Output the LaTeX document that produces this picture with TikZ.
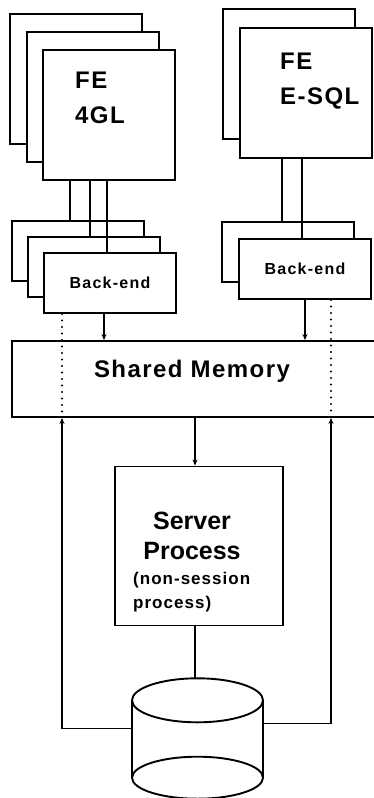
\documentclass[tikz,border=0pt]{standalone}
\usepackage{fontspec}
\setmainfont{Liberation Sans}
\usepackage{tikz}
\usetikzlibrary{arrows.meta, positioning}
\tikzstyle{sheet} = [rectangle, minimum width=132pt, minimum height=130pt, draw=black, fill=white, line width=1.9pt, inner sep=0pt]
\tikzstyle{backend} = [rectangle, minimum width=132pt, minimum height=60pt, draw=black, fill=white, line width=1.9pt, font={\bfseries\fontsize{16}{18}\selectfont\addfontfeature{LetterSpace=8}}]
\tikzstyle{memory} = [rectangle, minimum width=368pt, minimum height=76pt, draw=black, fill=white, line width=1.9pt]
\tikzstyle{server} = [rectangle, minimum width=168pt, minimum height=159pt, draw=black, fill=white, line width=1.9pt]
\tikzstyle{bigtext} = [inner sep=0pt, align=left, font={\bfseries\fontsize{24}{35}\selectfont\addfontfeature{LetterSpace=6}}]
\tikzstyle{srvtext} = [inner sep=0pt, align=center, font={\bfseries\fontsize{25}{30}\selectfont}]
\tikzstyle{notetext} = [inner sep=0pt, align=left, font={\bfseries\fontsize{17}{24}\selectfont\addfontfeature{LetterSpace=6}}]
\tikzstyle{link} = [line width=1.9pt]
\tikzstyle{arrow} = [line width=1.9pt, -{Stealth[length=6pt,width=5pt]}]
\tikzstyle{dotline} = [line width=2.2pt, dash pattern=on 0pt off 6.5pt, line cap=round]

\begin{document}
\begin{tikzpicture}[x=1pt, y=-1pt]
\useasboundingbox (0,0) rectangle (374,798);

\node (fe4glC) [sheet] at (76,79) {};
\node (fe4glB) [sheet] at (93,97) {};
\node (fe4gl) [sheet] at (109,115) {};
\node (fe4gltext) [bigtext, anchor=north west] at (75,72) {FE\\4GL};

\node (feesqlB) [sheet] at (289,74) {};
\node (feesql) [sheet] at (306,93) {};
\node (feesqltext) [bigtext, anchor=north west] at (280,53) {FE\\E-SQL};

\node (beL3) [backend] at (78,251) {};
\node (beL2) [backend] at (94,267) {};
\node (beL1) [backend] at (110,283) {Back-end};

\node (beR2) [backend] at (288,252) {};
\node (beR1) [backend] at (305,269) {Back-end};

\node (shm) [memory] at (196,379) {};
\node (shmtext) [bigtext, anchor=base] at (192,377) {Shared Memory};

\node (srv) [server] at (199,546) {};
\node (srvname) [srvtext, anchor=north] at (192,512) {Server\\Process};
\node (srvnote) [notetext, anchor=north west] at (133,572) {(non-session\\process)};

% disk
\node (db) [minimum width=131pt, minimum height=120pt, inner sep=0pt] at (197.5,738.5) {};
\draw [link] ([yshift=-22pt]db.north) ellipse [x radius=65.5pt, y radius=22pt];
\draw [link] ([yshift=21pt]db.south) ellipse [x radius=65.5pt, y radius=21pt];
\draw [link] ([yshift=-22pt]db.north west) -- ([yshift=21pt]db.south west);
\draw [link] ([yshift=-22pt]db.north east) -- ([yshift=21pt]db.south east);

\draw [link] ([xshift=-39pt]fe4gl.south) -- ([xshift=-8pt]beL3.north);
\draw [link] ([xshift=-19pt]fe4gl.south) -- ([xshift=-4pt]beL2.north);
\draw [link] ([xshift=-2pt]fe4gl.south) -- ([xshift=-3pt]beL1.north);
\draw [link] ([xshift=-24pt]feesql.south) -- ([xshift=-6pt]beR2.north);
\draw [link] ([xshift=-4pt]feesql.south) -- ([xshift=-3pt]beR1.north);

\draw [arrow] ([xshift=-6pt]beL1.south) -- ([xshift=-92pt]shm.north);
\draw [arrow] (beR1.south) -- ([xshift=109pt]shm.north);
\draw [dotline] ([xshift=-48pt]beL1.south) -- ([xshift=-134pt]shm.south);
\draw [dotline] ([xshift=26pt]beR1.south) -- ([xshift=135pt]shm.south);

\draw [arrow] ([xshift=-1pt]shm.south) -- ([xshift=-4pt]srv.north);
\draw [link] ([xshift=-4pt]srv.south) -- ([xshift=-2.5pt]db.north);
\draw [arrow] ([yshift=10pt]db.west) -| ([xshift=-134pt]shm.south);
\draw [arrow] ([yshift=15pt]db.east) -| ([xshift=135pt]shm.south);

\end{tikzpicture}
\end{document}
